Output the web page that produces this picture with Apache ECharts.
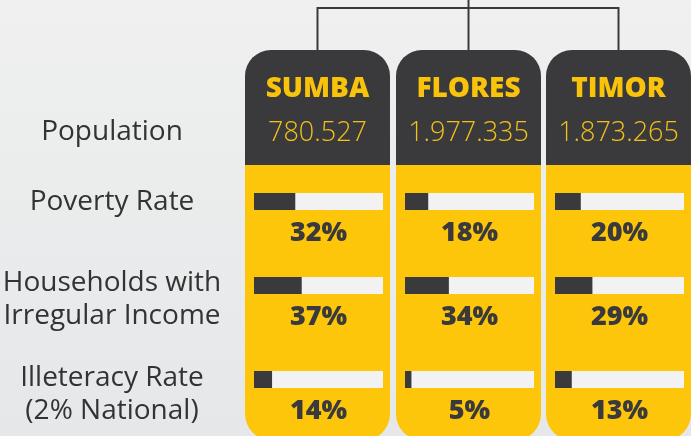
<!DOCTYPE html>
<html>
<head>
<meta charset="utf-8">
<script src="https://cdn.jsdelivr.net/npm/echarts@6/dist/echarts.min.js"></script>
<style>
  html, body { margin: 0; padding: 0; }
  #main { width: 691px; height: 436px; }
</style>
</head>
<body>
<div id="main"></div>
<script>
// data
const islands = ['SUMBA', 'FLORES', 'TIMOR'];
const population = ['780.527', '1.977.335', '1.873.265'];
const rowLabels = ['Population', 'Poverty Rate', 'Households with\nIrregular Income', 'Illeteracy Rate\n(2% National)'];
const povertyRate = [32, 18, 20];
const irregularIncome = [37, 34, 29];
const illiteracyRate = [14, 5, 13];
const rows = [povertyRate, irregularIncome, illiteracyRate];

// layout
const DARK = '#3a3a3c';
const YELLOW = '#fdc60b';
const FONT = 'Open Sans';
const cardLeft = [245, 396, 546];
const cardW = 145;
const cardTop = 50, headBottom = 165, cardBottom = 440;
const barTop = [193, 277, 371];
const barH = 17, barPad = 9, barW = 129;
const labelY = [132, 202, 299.5, 395];

let grids = [], xAxes = [], yAxes = [], series = [];
rows.forEach(function (vals, r) {
  vals.forEach(function (v, c) {
    const i = grids.length;
    grids.push({ left: cardLeft[c] + barPad, top: barTop[r], width: barW, height: barH });
    xAxes.push({
      gridIndex: i, type: 'value', min: 0, max: 100,
      axisLine: { show: false }, axisTick: { show: false }, axisLabel: { show: false }, splitLine: { show: false },
      name: v + '%', nameLocation: 'middle', nameGap: 23.5,
      nameTextStyle: { color: DARK, fontFamily: FONT, fontWeight: 800, fontSize: 27, verticalAlign: 'middle' }
    });
    yAxes.push({ gridIndex: i, type: 'category', data: [islands[c]], show: false });
    series.push({
      type: 'bar', xAxisIndex: i, yAxisIndex: i, data: [v], barWidth: barH,
      showBackground: true, backgroundStyle: { color: '#f2f2f2' },
      itemStyle: { color: DARK }, silent: true
    });
  });
});

let graphics = [];
// connector
const centers = cardLeft.map(function (l) { return l + cardW / 2; });
graphics.push({ type: 'polyline', shape: { points: [[centers[0], cardTop], [centers[0], 8], [centers[2], 8], [centers[2], cardTop]] }, style: { stroke: DARK, lineWidth: 2, fill: null } });
graphics.push({ type: 'line', shape: { x1: centers[1], y1: 0, x2: centers[1], y2: cardTop }, style: { stroke: DARK, lineWidth: 2 } });
// cards
islands.forEach(function (name, c) {
  graphics.push({ type: 'rect', z: 0, shape: { x: cardLeft[c], y: cardTop, width: cardW, height: headBottom - cardTop, r: [26, 26, 0, 0] }, style: { fill: DARK } });
  graphics.push({ type: 'rect', z: 0, shape: { x: cardLeft[c], y: headBottom, width: cardW, height: cardBottom - headBottom, r: [0, 0, 26, 26] }, style: { fill: YELLOW } });
  graphics.push({ type: 'text', z: 1, x: centers[c], y: 89, style: { text: name, fill: '#f9c30c', font: '800 28px "' + FONT + '"', textAlign: 'center', textVerticalAlign: 'middle' } });
  graphics.push({ type: 'text', z: 1, x: centers[c], y: 133, style: { text: population[c], fill: '#f3c019', font: '300 27px "' + FONT + '"', textAlign: 'center', textVerticalAlign: 'middle' } });
});
// row labels
rowLabels.forEach(function (t, r) {
  graphics.push({ type: 'text', z: 1, x: 112, y: labelY[r], style: { text: t, fill: '#333333', font: '400 28px "' + FONT + '"', lineHeight: 33, textAlign: 'center', textVerticalAlign: 'middle' } });
});

const chart = echarts.init(document.getElementById('main'));
chart.setOption({
  backgroundColor: new echarts.graphic.LinearGradient(0, 0, 0, 1, [
    { offset: 0, color: '#eff0ef' }, { offset: 1, color: '#e5e7e9' }
  ]),
  animation: false,
  graphic: graphics,
  grid: grids,
  xAxis: xAxes,
  yAxis: yAxes,
  series: series
});
</script>
</body>
</html>
